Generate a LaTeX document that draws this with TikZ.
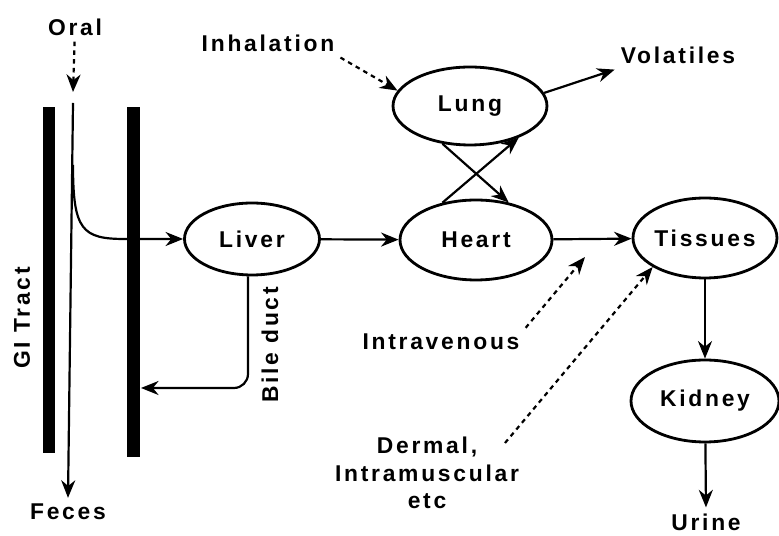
\documentclass[tikz,border=0pt]{standalone}
\usepackage{fontspec}
\setmainfont[LetterSpace=12]{Liberation Sans}
\usepackage{tikz}
\usetikzlibrary{arrows.meta, positioning, shapes.geometric}

\tikzset{
  organ/.style={ellipse, draw, line width=1.6pt, inner sep=0pt,
    minimum width=3.04cm, minimum height=1.6cm},
  arr/.style={-{Stealth[length=10pt, width=8pt]}, line width=1.25pt},
  dotarr/.style={arr, dash pattern=on 2.6pt off 2.4pt},
  gibar/.style={fill=black}
}

\begin{document}
\begin{tikzpicture}[x=0.02cm, y=-0.02cm, font=\bfseries\fontsize{13}{15.5}\selectfont]
  \useasboundingbox (0,0) rectangle (779,536);

  % GI tract
  \fill[gibar] (43,107) rectangle (55,453);
  \fill[gibar] (127,107) rectangle (140,457);
  \node[rotate=90] (gitract) at (22,318) {GI Tract};
  \node (oral) at (75,27) {Oral};
  \node (feces) at (68,512) {Feces};
  \coordinate (gutin) at (73,92);
  \coordinate (guttop) at (73,103);
  \coordinate (gutbend) at (73,165);
  \coordinate (barhit) at (141,388);
  \draw[dotarr] (oral) -- (gutin);
  \draw[arr] (guttop) -- (feces.north);

  % organs
  \node[organ, minimum width=2.7cm, minimum height=1.44cm] (liver) at (252,239) {Liver};
  \node[organ] (heart) at (476,240) {Heart};
  \node[organ, minimum width=3.08cm, minimum height=1.56cm] (lung) at (470,106) {Lung};
  \node[organ, minimum width=2.88cm] (tissues) at (705,238) {Tissues};
  \node[organ, minimum width=2.96cm, minimum height=1.64cm] (kidney) at (705,401) {Kidney};

  % labels
  \node (inhal) at (268,43) {Inhalation};
  \node (volatiles) at (678,55) {Volatiles};
  \node (urine) at (706,522) {Urine};
  \node (iv) at (441,342) {Intravenous};
  \node[align=center] (dermal) at (427,473) {Dermal,\\Intramuscular\\etc};
  \node[rotate=90] (bile) at (270,345) {Bile duct};
  \coordinate (ivend) at (585,257);
  \coordinate (dstart) at (505,443);

  % flows
  \draw[arr] (gutbend) .. controls (73,230) and (82,239) .. (125,239) -- (liver.west);
  \draw[arr, rounded corners=8pt] (liver.south -| 248,0) |- (barhit);
  \draw[arr] (liver) -- (heart);
  \draw[arr] (lung.234) -- (heart.49);
  \draw[arr] (heart.132) -- (lung.327);
  \draw[arr] (lung.10) -- (volatiles.south west);
  \draw[arr] (heart) -- (tissues);
  \draw[arr] (tissues) -- (kidney);
  \draw[arr] (kidney) -- (urine.north);

  % routes of entry
  \draw[dotarr] (inhal.south east) -- (lung.168);
  \draw[dotarr] (iv.north east) -- (ivend);
  \draw[dotarr] (dstart) -- (tissues.209);
\end{tikzpicture}
\end{document}
